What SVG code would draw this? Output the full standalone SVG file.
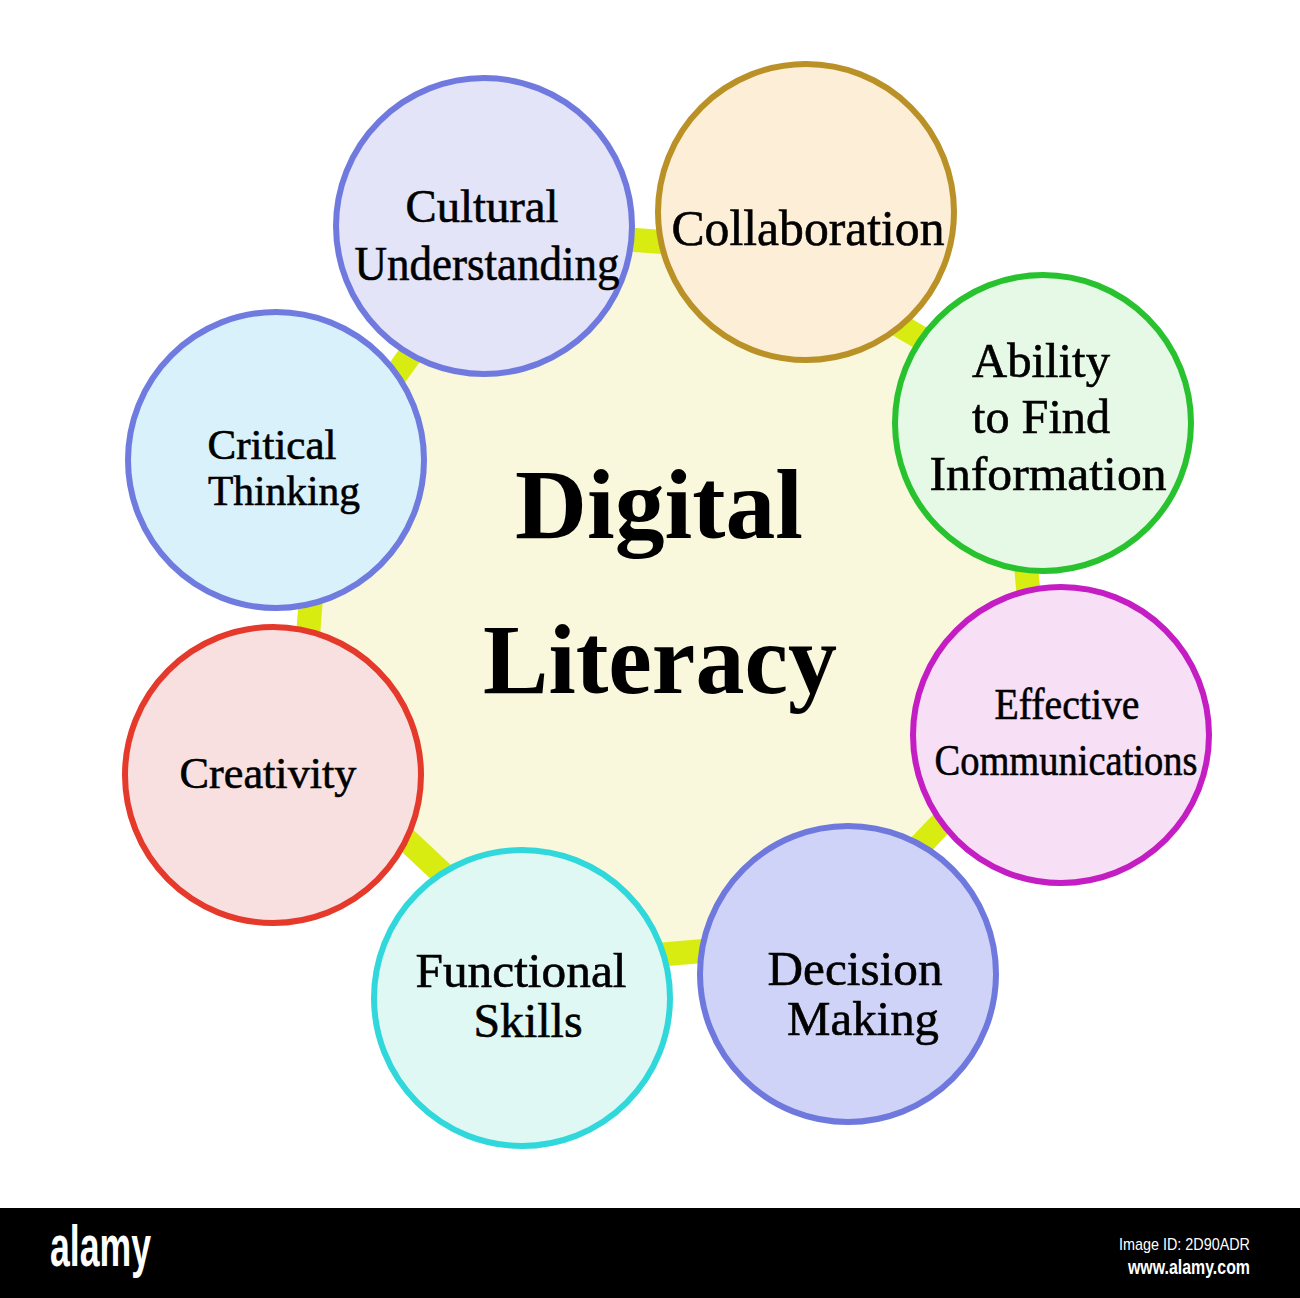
<svg xmlns="http://www.w3.org/2000/svg" width="1300" height="1298" viewBox="0 0 1300 1298">
<style>
.lbl{font-family:"Liberation Serif","Times New Roman",serif;fill:#000;stroke:#000;stroke-width:0.6;text-anchor:middle}
.hub{font-family:"Liberation Serif","Times New Roman",serif;font-weight:bold;font-size:99px;fill:#000;text-anchor:middle}
.node circle{stroke-width:6}
.conn line{stroke:#D8EC12;stroke-width:24;stroke-linecap:butt}
</style>
<rect x="0" y="0" width="1300" height="1298" fill="#fff"/>
<g id="hub">
<polygon points="500,230 770,250 1010,390 1040,720 830,940 540,965 300,740 320,480" fill="#FAF8DC"/>
<text class="hub" x="659" y="538" textLength="288" lengthAdjust="spacingAndGlyphs">Digital</text>
<text class="hub" x="660" y="693" textLength="354" lengthAdjust="spacingAndGlyphs">Literacy</text>
</g>
<g id="connectors" class="conn">
<line x1="500" y1="230" x2="770" y2="250"/>
<line x1="770" y1="250" x2="1010" y2="390"/>
<line x1="1010" y1="390" x2="1040" y2="720"/>
<line x1="1040" y1="720" x2="830" y2="940"/>
<line x1="830" y1="940" x2="540" y2="965"/>
<line x1="540" y1="965" x2="300" y2="740"/>
<line x1="300" y1="740" x2="320" y2="480"/>
<line x1="320" y1="480" x2="500" y2="230"/>
</g>
<g id="cultural" class="node">
<circle cx="484" cy="226" r="148" fill="#E3E4F8" stroke="#7079DE"/>
<text class="lbl" x="482" y="222" font-size="47" textLength="153" lengthAdjust="spacingAndGlyphs">Cultural</text>
<text class="lbl" x="487" y="280" font-size="48" textLength="265" lengthAdjust="spacingAndGlyphs">Understanding</text>
</g>
<g id="collaboration" class="node">
<circle cx="806" cy="212" r="148" fill="#FDEED8" stroke="#BA9126"/>
<text class="lbl" x="808" y="245" font-size="50" textLength="273" lengthAdjust="spacingAndGlyphs">Collaboration</text>
</g>
<g id="ability" class="node">
<circle cx="1043" cy="423" r="148" fill="#E6F9E6" stroke="#27C22E"/>
<text class="lbl" x="1041" y="377" font-size="48" textLength="138" lengthAdjust="spacingAndGlyphs">Ability</text>
<text class="lbl" x="1041" y="433" font-size="48" textLength="138" lengthAdjust="spacingAndGlyphs">to Find</text>
<text class="lbl" x="1048" y="490" font-size="48" textLength="237" lengthAdjust="spacingAndGlyphs">Information</text>
</g>
<g id="effective" class="node">
<circle cx="1061" cy="735" r="148" fill="#F7DFF6" stroke="#C41DC3"/>
<text class="lbl" x="1067" y="719" font-size="44" textLength="145" lengthAdjust="spacingAndGlyphs">Effective</text>
<text class="lbl" x="1066" y="775" font-size="44" textLength="263" lengthAdjust="spacingAndGlyphs">Communications</text>
</g>
<g id="decision" class="node">
<circle cx="848" cy="974" r="148" fill="#D0D3F8" stroke="#6F78DD"/>
<text class="lbl" x="855" y="985" font-size="48" textLength="175" lengthAdjust="spacingAndGlyphs">Decision</text>
<text class="lbl" x="863" y="1035" font-size="48" textLength="152" lengthAdjust="spacingAndGlyphs">Making</text>
</g>
<g id="functional" class="node">
<circle cx="522" cy="998" r="148" fill="#E0F8F3" stroke="#30D8DC"/>
<text class="lbl" x="521" y="987" font-size="48" textLength="211" lengthAdjust="spacingAndGlyphs">Functional</text>
<text class="lbl" x="528" y="1037" font-size="48" textLength="109" lengthAdjust="spacingAndGlyphs">Skills</text>
</g>
<g id="creativity" class="node">
<circle cx="273" cy="775" r="148" fill="#F8E0E0" stroke="#E5392B"/>
<text class="lbl" x="268" y="788" font-size="44" textLength="177" lengthAdjust="spacingAndGlyphs">Creativity</text>
</g>
<g id="critical" class="node">
<circle cx="276" cy="460" r="148" fill="#D8F1FA" stroke="#6F7BDF"/>
<text class="lbl" x="272" y="459" font-size="42" textLength="129" lengthAdjust="spacingAndGlyphs">Critical</text>
<text class="lbl" x="284" y="505" font-size="42" textLength="152" lengthAdjust="spacingAndGlyphs">Thinking</text>
</g>
<g id="footer">
<rect x="0" y="1208" width="1300" height="90" fill="#000"/>
<text x="50" y="1266" font-family="Liberation Sans, Arial, sans-serif" font-weight="bold" font-size="58" fill="#fff" textLength="101" lengthAdjust="spacingAndGlyphs">alamy</text>
<text x="1250" y="1250" font-family="Liberation Sans, Arial, sans-serif" font-size="17" fill="#fff" text-anchor="end" textLength="131" lengthAdjust="spacingAndGlyphs">Image ID: 2D90ADR</text>
<text x="1250" y="1274" font-family="Liberation Sans, Arial, sans-serif" font-weight="bold" font-size="20" fill="#fff" text-anchor="end" textLength="122" lengthAdjust="spacingAndGlyphs">www.alamy.com</text>
</g>
</svg>
